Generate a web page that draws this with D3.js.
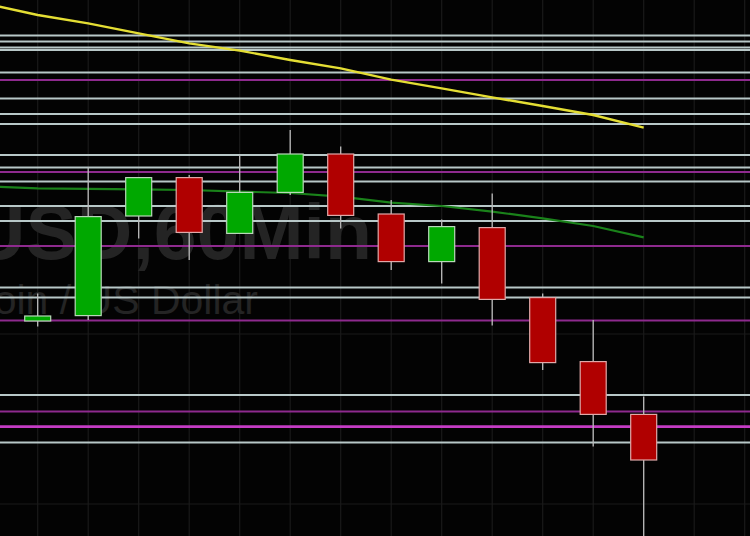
<!DOCTYPE html>
<html>
<head>
<meta charset="utf-8">
<script src="https://cdn.jsdelivr.net/npm/d3@7"></script>
<style>
  html, body { margin: 0; padding: 0; background: #030303; }
  svg { display: block; }
</style>
</head>
<body>
<svg id="chart" width="750" height="536"></svg>
<script>
// ---- data ----
const hours = ["00:00","01:00","02:00","03:00","04:00","05:00","06:00","07:00","08:00","09:00","10:00","11:00","12:00"];
const opens  = [9539.5, 9542.2, 9592.0, 9611.2, 9583.3, 9603.8, 9623.0, 9593.0, 9569.2, 9586.2, 9551.2, 9519.2, 9492.8];
const closes = [9542.0, 9591.7, 9611.2, 9583.8, 9603.8, 9623.0, 9592.3, 9569.2, 9586.7, 9550.3, 9518.7, 9492.8, 9470.0];
const highs  = [9553.3, 9616.2, 9611.5, 9612.5, 9622.5, 9635.0, 9626.7, 9600.0, 9590.3, 9603.3, 9553.3, 9540.0, 9501.7];
const lows   = [9536.7, 9540.0, 9580.8, 9570.0, 9583.2, 9602.5, 9585.8, 9565.0, 9558.3, 9537.2, 9515.0, 9476.7, 9430.0];
// moving averages, index -1 .. 12
const maIndex   = [-1, 0, 1, 2, 3, 4, 5, 6, 7, 8, 9, 10, 11, 12];
const maSlow    = [9698.0, 9692.5, 9688.3, 9683.3, 9678.3, 9674.7, 9670.0, 9665.8, 9660.2, 9655.8, 9651.3, 9647.0, 9642.5, 9636.2];
const maFast    = [9606.8, 9605.8, 9605.6, 9605.3, 9605.0, 9604.2, 9603.5, 9601.7, 9598.7, 9597.0, 9594.2, 9590.8, 9587.0, 9581.3];
// horizontal levels
const greyLevels   = [9682.2, 9679.2, 9676.2, 9675.0, 9663.7, 9650.8, 9643.0, 9638.0, 9622.5, 9616.2, 9609.2, 9597.0, 9589.5, 9556.2, 9551.3, 9502.5, 9478.7];
const purpleLevels = [9660.0, 9614.0, 9577.0, 9539.7, 9494.2];
const magentaLevels = [9486.7];
const gridPrices = [9533.0, 9448.0];
const watermarkMain = "BTCUSD,60Min";
const watermarkSub = "Bitcoin / US Dollar";

// ---- chart ----
const W = 750, H = 536;
const svg = d3.select("#chart");
svg.append("rect").attr("width", W).attr("height", H).attr("fill", "#030303");

const x = d3.scaleLinear().domain([0, 12]).range([37.7, 643.7]);
const y = d3.scaleLinear().domain([9700, 9432]).range([0, H]);
const bodyW = 26;

// grid
const gridIdx = d3.range(0, 15);
svg.append("g").selectAll("line").data(gridIdx).join("line")
  .attr("x1", d => x(d)).attr("x2", d => x(d))
  .attr("y1", 0).attr("y2", H)
  .attr("stroke", "#1a1a1a").attr("stroke-width", 1.2);
svg.append("g").selectAll("line").data(gridPrices).join("line")
  .attr("x1", 0).attr("x2", W)
  .attr("y1", d => y(d)).attr("y2", d => y(d))
  .attr("stroke", "#1a1a1a").attr("stroke-width", 1.2);

// watermark
svg.append("text")
  .attr("x", 372).attr("y", 259)
  .attr("text-anchor", "end")
  .attr("font-family", "Liberation Sans, Arial, sans-serif")
  .attr("font-weight", "bold")
  .attr("font-size", 77)
  .attr("fill", "#242424")
  .text(watermarkMain);
svg.append("text")
  .attr("x", 258).attr("y", 314)
  .attr("text-anchor", "end")
  .attr("font-family", "Liberation Sans, Arial, sans-serif")
  .attr("font-size", 41)
  .attr("fill", "#242424")
  .text(watermarkSub);

// horizontal levels
svg.append("g").selectAll("line").data(greyLevels).join("line")
  .attr("x1", 0).attr("x2", W)
  .attr("y1", d => y(d)).attr("y2", d => y(d))
  .attr("stroke", "#b8c8c8").attr("stroke-width", 2);
svg.append("g").selectAll("line").data(purpleLevels).join("line")
  .attr("x1", 0).attr("x2", W)
  .attr("y1", d => y(d)).attr("y2", d => y(d))
  .attr("stroke", "#8e2a8e").attr("stroke-width", 2);
svg.append("g").selectAll("line").data(magentaLevels).join("line")
  .attr("x1", 0).attr("x2", W)
  .attr("y1", d => y(d)).attr("y2", d => y(d))
  .attr("stroke", "#c43cc4").attr("stroke-width", 2.6);

// moving averages
const maData = (arr) => maIndex.map((i, k) => ({ i, v: arr[k] }));
const lineGen = d3.line().x(d => x(d.i)).y(d => y(d.v));
svg.append("path").datum(maData(maFast))
  .attr("d", lineGen).attr("fill", "none")
  .attr("stroke", "#1a821a").attr("stroke-width", 2.2);
svg.append("path").datum(maData(maSlow))
  .attr("d", lineGen).attr("fill", "none")
  .attr("stroke", "#e4de34").attr("stroke-width", 2.4);

// candles
const candles = hours.map((h, i) => ({ i, h, o: opens[i], c: closes[i], hi: highs[i], lo: lows[i] }));
const g = svg.append("g");
g.selectAll("line.wick").data(candles).join("line")
  .attr("class", "wick")
  .attr("x1", d => x(d.i)).attr("x2", d => x(d.i))
  .attr("y1", d => y(d.hi)).attr("y2", d => y(d.lo))
  .attr("stroke", "#bcbcbc").attr("stroke-width", 1.3);
g.selectAll("rect.body").data(candles).join("rect")
  .attr("class", "body")
  .attr("x", d => x(d.i) - bodyW / 2)
  .attr("width", bodyW)
  .attr("y", d => y(Math.max(d.o, d.c)))
  .attr("height", d => Math.max(1, Math.abs(y(d.o) - y(d.c))))
  .attr("fill", d => d.c >= d.o ? "#00a800" : "#b00000")
  .attr("stroke", d => d.c >= d.o ? "#b8d8b8" : "#e0a8a8")
  .attr("stroke-width", 1.2);
</script>
</body>
</html>
